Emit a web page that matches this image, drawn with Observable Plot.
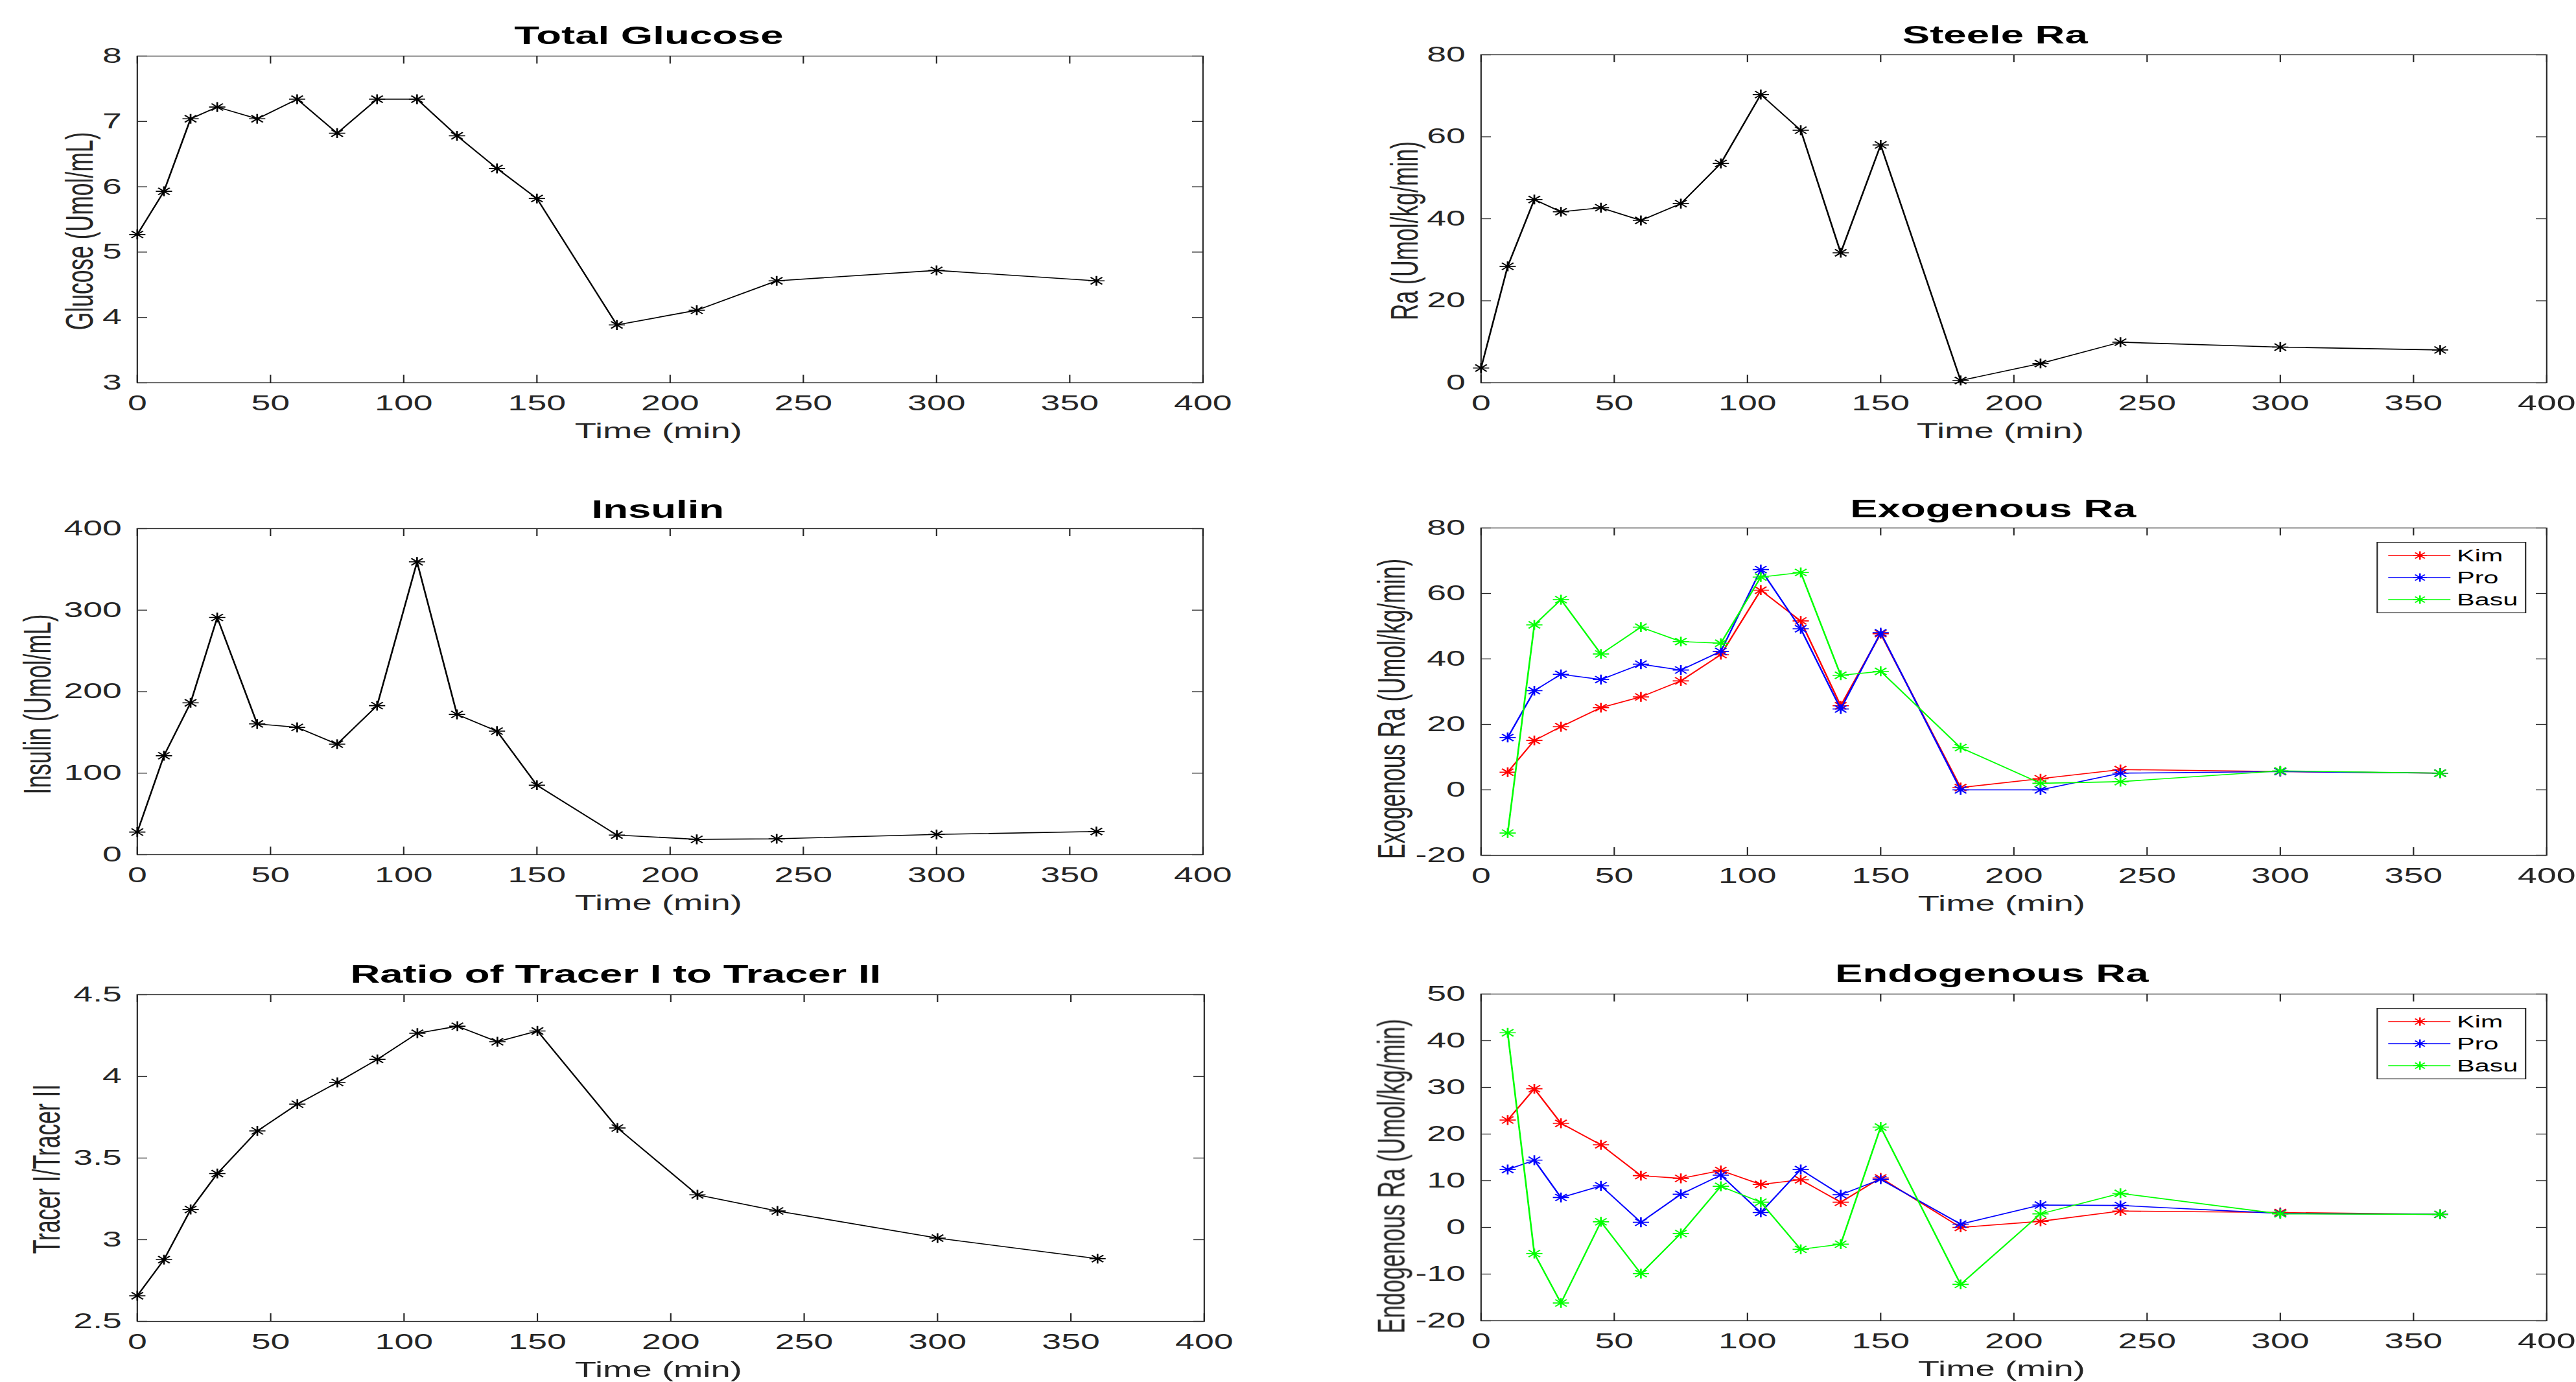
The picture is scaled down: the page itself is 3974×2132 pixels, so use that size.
<!DOCTYPE html>
<html>
<head>
<meta charset="utf-8">
<script src="https://cdn.jsdelivr.net/npm/d3@7"></script>
<script src="https://cdn.jsdelivr.net/npm/@observablehq/plot@0.6"></script>
<style>
  html, body { margin: 0; padding: 0; background: #fff; overflow: hidden; }
  #fig { position: relative; width: 2408.5px; height: 2132px; transform: scaleX(1.65); transform-origin: 0 0; background: #fff; }
  #fig > svg { position: absolute; max-width: none; }
</style>
</head>
<body>
<div id="fig"></div>
<script>
// ---------------- data ----------------
const timeMin = [0, 10, 20, 30, 45, 60, 75, 90, 105, 120, 135, 150, 180, 210, 240, 300, 360];
const raTimeMin = [10, 20, 30, 45, 60, 75, 90, 105, 120, 135, 150, 180, 210, 240, 300, 360];
const totalGlucose = [5.27, 5.93, 7.04, 7.22, 7.04, 7.34, 6.82, 7.34, 7.34, 6.78, 6.28, 5.82, 3.885, 4.11, 4.56, 4.72, 4.56];
const steeleRa = [3.6, 28.4, 44.7, 41.7, 42.7, 39.6, 43.7, 53.5, 70.3, 61.6, 31.7, 58.0, 0.56, 4.7, 9.9, 8.7, 8.0];
const insulin = [27.7, 121.4, 186.3, 291, 160.4, 156.2, 135.6, 182.8, 359.2, 172.1, 151.6, 85.2, 24.1, 18.8, 19.5, 24.8, 28.4];
const tracerRatio = [2.657, 2.878, 3.185, 3.405, 3.666, 3.830, 3.963, 4.104, 4.264, 4.307, 4.212, 4.278, 3.684, 3.275, 3.176, 3.010, 2.884];
const exoKim = [5.4, 15.1, 19.3, 25.1, 28.4, 33.3, 41.3, 61.0, 51.6, 25.7, 47.7, 0.7, 3.4, 6.2, 5.6, 5.1];
const exoPro = [16.0, 30.3, 35.3, 33.7, 38.4, 36.6, 42.3, 67.3, 49.2, 24.7, 48.0, 0.0, 0.0, 5.1, 5.6, 5.1];
const exoBasu = [-13.2, 50.4, 58.1, 41.5, 49.7, 45.3, 44.8, 65.0, 66.4, 35.0, 36.2, 12.9, 2.0, 2.5, 5.8, 5.1];
const endoKim = [23.0, 29.7, 22.3, 17.7, 11.1, 10.5, 12.2, 9.2, 10.2, 5.4, 10.6, 0.0, 1.3, 3.5, 3.2, 2.8];
const endoPro = [12.4, 14.4, 6.4, 8.9, 1.1, 7.1, 11.2, 3.2, 12.4, 7.0, 10.3, 0.7, 4.8, 4.7, 3.0, 2.8];
const endoBasu = [41.7, -5.6, -16.2, 1.2, -9.9, -1.3, 8.8, 5.4, -4.7, -3.6, 21.5, -12.2, 2.9, 7.3, 2.9, 2.8];
const methodNames = ["Kim", "Pro", "Basu"];
const methodColors = ["#ff0000", "#0000ff", "#00ff00"];
const xTicks = [0, 50, 100, 150, 200, 250, 300, 350, 400];
const glucoseTicks = [3, 4, 5, 6, 7, 8];
const steeleTicks = [0, 20, 40, 60, 80];
const insulinTicks = [0, 100, 200, 300, 400];
const exoTicks = [-20, 0, 20, 40, 60, 80];
const ratioTicks = [2.5, 3, 3.5, 4, 4.5];
const endoTicks = [-20, -10, 0, 10, 20, 30, 40, 50];
const titles = ["Total Glucose", "Steele Ra", "Insulin", "Exogenous Ra", "Ratio of Tracer I to Tracer II", "Endogenous Ra"];
const yLabels = ["Glucose (Umol/mL)", "Ra (Umol/kg/min)", "Insulin (Umol/mL)", "Exogenous Ra (Umol/kg/min)", "Tracer I/Tracer II", "Endogenous Ra (Umol/kg/min)"];
const xLabel = "Time (min)";

// ---------------- layout / style ----------------
const K = 1.65;                       // horizontal stretch of the original image
const FONT = '"Liberation Sans", Arial, Helvetica, sans-serif';
const AX = "#262626";
const MR = 7.6;
const fig = document.getElementById("fig");

const asterisk = {
  draw(ctx, size) {
    const r = Math.sqrt(size / Math.PI);
    const d = r * Math.SQRT1_2;
    ctx.moveTo(-r, 0); ctx.lineTo(r, 0);
    ctx.moveTo(0, -r); ctx.lineTo(0, r);
    ctx.moveTo(-d, -d); ctx.lineTo(d, d);
    ctx.moveTo(-d, d); ctx.lineTo(d, -d);
  }
};

function rowsOf(t, v) { return t.map((d, i) => ({t: d, v: v[i]})); }

function makePanel(cfg) {
  const [fx0, fy0, fx1, fy1] = cfg.frame;
  const {left, top, width, height} = cfg;
  const mL = fx0 / K - left, mR = left + width - fx1 / K, mT = fy0 - top, mB = top + height - fy1;
  const fw = width - mL - mR, fh = height - mT - mB;
  const marks = [
    Plot.frame({stroke: AX, strokeWidth: 1.3}),
    Plot.ruleY(cfg.yTicks, {y: d => d, insetRight: fw - 9.7, stroke: AX, strokeWidth: 1.3}),
    Plot.ruleY(cfg.yTicks, {y: d => d, insetLeft: fw - 9.7, stroke: AX, strokeWidth: 1.3}),
    Plot.ruleX(xTicks, {x: d => d, insetTop: fh - 12, stroke: AX, strokeWidth: 1.3}),
    Plot.ruleX(xTicks, {x: d => d, insetBottom: fh - 12, stroke: AX, strokeWidth: 1.3})
  ];
  for (const s of cfg.series) {
    const rows = rowsOf(s.t, s.v);
    marks.push(Plot.line(rows, {x: "t", y: "v", stroke: s.color, strokeWidth: 1.6}));
    marks.push(Plot.dot(rows, {x: "t", y: "v", symbol: asterisk, r: MR, stroke: s.color, fill: "none", strokeWidth: 1.6}));
  }
  marks.push(
    Plot.text(xTicks, {x: d => d, text: d => String(d), frameAnchor: "bottom", lineAnchor: "middle", dy: 32, fontSize: 32.5, fill: AX}),
    Plot.text(cfg.yTicks, {y: d => d, text: d => String(d), frameAnchor: "left", textAnchor: "end", lineAnchor: "middle", dx: -14.5, fontSize: 32.5, fill: AX}),
    Plot.text([cfg.title], {text: d => d, frameAnchor: "top", lineAnchor: "bottom", dy: -cfg.titleGap, dx: cfg.titleDx / K, fontSize: 38.5, fontWeight: "bold", fill: "#000"}),
    Plot.text([cfg.yLabel], {text: d => d, frameAnchor: "left", rotate: -90, textAnchor: "middle", lineAnchor: "middle", dx: (cfg.ylx - fx0) / K, dy: cfg.yly - (fy0 + fy1) / 2, fontSize: 35.5, fill: AX}),
    Plot.text([xLabel], {text: d => d, frameAnchor: "bottom", lineAnchor: "bottom", dy: 85, dx: (cfg.xlx - (fx0 + fx1) / 2) / K, fontSize: 33, fill: AX})
  );
  const svg = Plot.plot({
    width, height,
    marginLeft: mL, marginRight: mR, marginTop: mT, marginBottom: mB,
    x: {domain: [0, 400], axis: null},
    y: {domain: cfg.yDomain, axis: null},
    style: {background: "#fff", fontFamily: FONT, overflow: "visible"},
    marks
  });
  svg.style.left = left + "px";
  svg.style.top = top + "px";
  fig.appendChild(svg);
}

function addLegend(box) {
  const [bx0, by0, bx1, by1] = box;
  const w = (bx1 - bx0) / K, h = by1 - by0;
  const svg = d3.create("svg").attr("width", w).attr("height", h)
    .style("left", (bx0 / K) + "px").style("top", by0 + "px").style("overflow", "visible");
  svg.append("rect").attr("x", 0.65).attr("y", 0.65).attr("width", w - 1.3).attr("height", h - 1.3)
    .attr("fill", "#fff").attr("stroke", AX).attr("stroke-width", 1.3);
  methodNames.forEach((name, i) => {
    const g = svg.append("g").attr("transform", `translate(0,${21 + 34 * i})`);
    g.append("line").attr("x1", 10.9).attr("x2", 69.1).attr("stroke", methodColors[i]).attr("stroke-width", 1.5);
    const p = d3.path(); asterisk.draw(p, 6.4 * 6.4 * Math.PI);
    g.append("path").attr("transform", "translate(40.6,0)").attr("d", p.toString())
      .attr("stroke", methodColors[i]).attr("fill", "none").attr("stroke-width", 1.5);
    g.append("text").attr("x", 75.2).attr("dy", "0.35em").attr("font-size", 25)
      .attr("font-family", FONT).attr("fill", "#000").text(name);
  });
  fig.appendChild(svg.node());
}

const LW = 1200, RW = 2408.5 - 1200;
const exoSeries = [exoKim, exoPro, exoBasu].map((v, i) => ({t: raTimeMin, v, color: methodColors[i]}));
const endoSeries = [endoKim, endoPro, endoBasu].map((v, i) => ({t: raTimeMin, v, color: methodColors[i]}));

makePanel({left: 0, top: 0, width: LW, height: 700, frame: [211, 86, 1855, 590], yDomain: [3, 8], yTicks: glucoseTicks,
  series: [{t: timeMin, v: totalGlucose, color: "#000"}], title: titles[0], titleGap: 19, titleDx: -33,
  yLabel: yLabels[0], ylx: 123, yly: 356, xlx: 1015});
makePanel({left: LW, top: 0, width: RW, height: 700, frame: [2284, 84, 3928, 590], yDomain: [0, 80], yTicks: steeleTicks,
  series: [{t: timeMin, v: steeleRa, color: "#000"}], title: titles[1], titleGap: 18, titleDx: -29,
  yLabel: yLabels[1], ylx: 2167, yly: 355.6, xlx: 3085});
makePanel({left: 0, top: 700, width: LW, height: 720, frame: [211, 815, 1855, 1318], yDomain: [0, 400], yTicks: insulinTicks,
  series: [{t: timeMin, v: insulin, color: "#000"}], title: titles[2], titleGap: 17, titleDx: -19,
  yLabel: yLabels[2], ylx: 58, yly: 1086, xlx: 1015});
makePanel({left: LW, top: 700, width: RW, height: 720, frame: [2284, 814, 3928, 1319], yDomain: [-20, 80], yTicks: exoTicks,
  series: exoSeries, title: titles[3], titleGap: 17, titleDx: -32,
  yLabel: yLabels[3], ylx: 2147, yly: 1093, xlx: 3087});
makePanel({left: 0, top: 1420, width: LW, height: 712, frame: [211, 1534, 1857, 2038], yDomain: [2.5, 4.5], yTicks: ratioTicks,
  series: [{t: timeMin, v: tracerRatio, color: "#000"}], title: titles[4], titleGap: 19, titleDx: -85,
  yLabel: yLabels[4], ylx: 72, yly: 1803, xlx: 1015});
makePanel({left: LW, top: 1420, width: RW, height: 712, frame: [2284, 1533, 3928, 2037], yDomain: [-20, 50], yTicks: endoTicks,
  series: endoSeries, title: titles[5], titleGap: 19, titleDx: -34,
  yLabel: yLabels[5], ylx: 2147, yly: 1814, xlx: 3087});

addLegend([3666, 836, 3897, 946]);
addLegend([3666, 1555, 3897, 1665]);
</script>
</body>
</html>
